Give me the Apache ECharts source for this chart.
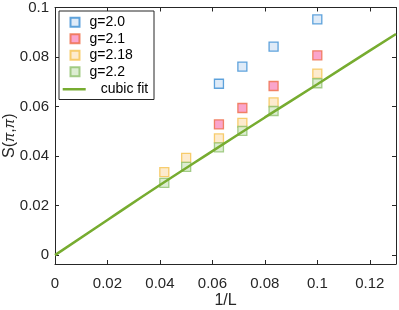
<!DOCTYPE html>
<html>
<head>
<meta charset="utf-8">
<script src="https://cdn.jsdelivr.net/npm/echarts@6/dist/echarts.min.js"></script>
<style>
html,body{margin:0;padding:0;background:#fff;}
#chart{width:399px;height:310px;}
</style>
</head>
<body>
<div id="chart"></div>
<script>
// ---- data ----
const invL   = [0.1, 0.08333, 0.07143, 0.0625, 0.05, 0.04167];
const g20    = [0.0952, 0.0842, 0.0761, 0.0692];
const g21    = [0.0807, 0.0683, 0.0594, 0.0528];
const g218   = [0.0733, 0.0617, 0.0534, 0.0471, 0.0393, 0.0335];
const g22    = [0.0694, 0.0582, 0.0502, 0.0435, 0.0356, 0.0292];
const fitX   = [0, 0.02, 0.04, 0.06, 0.08, 0.1, 0.12, 0.13];
const fitY   = [0, 0.0142, 0.0283, 0.042, 0.0556, 0.069, 0.0826, 0.0893];
const seriesNames = ['g=2.0', 'g=2.1', 'g=2.18', 'g=2.2'];
const fitName = 'cubic fit';
const xTicks = { min: 0, max: 0.13, interval: 0.02 };
const yTicks = { min: -0.0036, max: 0.1 };

const FONT = "'Liberation Sans', Arial, Helvetica, sans-serif";
const AX = '#262626';

const pair = (xs, ys) => ys.map((y, i) => [xs[i], y]);

const markerStyles = [
  { color: '#d7e6f6', borderColor: '#3a8dd3' },
  { color: '#f98fbf', borderColor: '#ee6a45' },
  { color: '#fde6c2', borderColor: '#f5c24f' },
  { color: '#d4e8c7', borderColor: '#8ec06c' }
];
const groups = [g20, g21, g218, g22];

const scatterSeries = groups.map((g, k) => ({
  name: seriesNames[k],
  type: 'scatter',
  symbol: 'rect',
  symbolSize: 9,
  data: pair(invL, g),
  itemStyle: { color: markerStyles[k].color, borderColor: markerStyles[k].borderColor, borderWidth: 1.3 },
  z: 2
}));

const axisCommon = {
  axisLine: { show: true, onZero: false, lineStyle: { color: AX, width: 1 } },
  axisTick: { show: true, inside: true, length: 4, lineStyle: { color: AX } },
  splitLine: { show: false }
};

const chart = echarts.init(document.getElementById('chart'), null, { renderer: 'canvas' });
chart.setOption({
  animation: false,
  backgroundColor: '#fff',
  textStyle: { fontFamily: FONT },
  grid: { left: 55, right: 3, top: 7.5, bottom: 46, containLabel: false, outerBoundsMode: 'none' },
  xAxis: [
    Object.assign({
      type: 'value', position: 'bottom',
      min: xTicks.min, max: xTicks.max, interval: xTicks.interval,
      name: '1/L', nameLocation: 'middle', nameGap: 29, nameMoveOverlap: false,
      nameTextStyle: { fontSize: 16, color: AX, fontFamily: FONT },
      axisLabel: { fontSize: 15, color: AX, margin: 12, showMaxLabel: false, fontFamily: FONT }
    }, axisCommon),
    Object.assign({
      type: 'value', position: 'top',
      min: xTicks.min, max: xTicks.max, interval: xTicks.interval,
      axisLabel: { show: false }
    }, axisCommon)
  ],
  yAxis: [
    Object.assign({
      type: 'value', position: 'left',
      min: yTicks.min, max: yTicks.max, splitNumber: 5,
      name: '{s|S}{p|(}{i|π}{p|,}{i|π}{p|)}', nameLocation: 'middle', nameGap: 37,
      nameRotate: 90, nameMoveOverlap: false,
      nameTextStyle: {
        color: AX, fontFamily: FONT,
        rich: {
          s: { fontSize: 16, color: AX, fontFamily: FONT },
          p: { fontSize: 16, color: AX, fontFamily: FONT },
          i: { fontSize: 14, color: AX, fontFamily: FONT, fontStyle: 'italic' }
        }
      },
      axisLabel: { fontSize: 15, color: AX, margin: 6, showMinLabel: false, fontFamily: FONT }
    }, axisCommon),
    Object.assign({
      type: 'value', position: 'right',
      min: yTicks.min, max: yTicks.max, splitNumber: 5,
      axisLabel: { show: false }
    }, axisCommon)
  ],
  graphic: [{
    type: 'rect', z: 3,
    shape: { x: 59, y: 11, width: 95, height: 88.5 },
    style: { fill: '#fff', stroke: AX, lineWidth: 1 }
  }],
  legend: [
    {
      data: seriesNames, orient: 'vertical', left: 69.5, top: 14, padding: 0,
      itemWidth: 9, itemHeight: 9, itemGap: 0, z: 5,
      textStyle: { fontSize: 14, color: '#000', fontFamily: FONT, lineHeight: 16.5, padding: [0, 0, 0, 5] }
    },
    {
      data: [{ name: fitName, icon: 'rect' }], orient: 'vertical', left: 62.7, top: 81, padding: 0,
      itemWidth: 23, itemHeight: 2.5, itemGap: 0, z: 5,
      itemStyle: { color: '#77ac30' },
      textStyle: { fontSize: 14, color: '#000', fontFamily: FONT, lineHeight: 16.5, padding: [0, 0, 0, 10] }
    }
  ],
  series: scatterSeries.concat([{
    name: fitName,
    type: 'line',
    data: pair(fitX, fitY),
    symbol: 'none',
    smooth: true,
    lineStyle: { color: '#77ac30', width: 2.5 },
    itemStyle: { color: '#77ac30' },
    z: 4
  }])
});
</script>
</body>
</html>
